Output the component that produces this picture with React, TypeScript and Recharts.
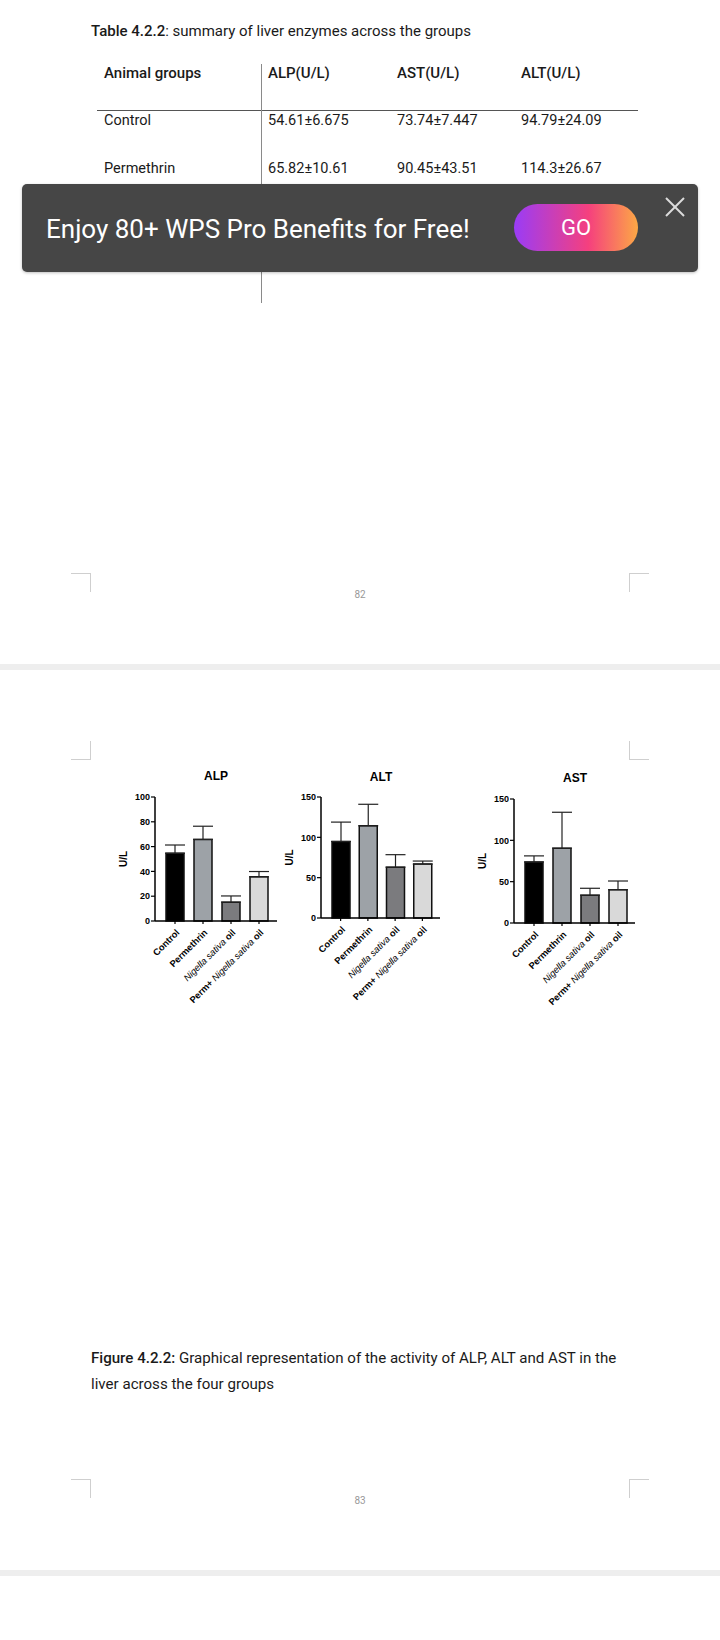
import React from 'react';
import { BarChart, Bar, XAxis, YAxis, Cell, ErrorBar } from 'recharts';

// groups and bar colours (same order in every panel)
const GROUPS = ['Control', 'Permethrin', 'Nigella sativa oil', 'Perm+ Nigella sativa oil'];
const BAR_COLORS = ['#000000', '#9da2a7', '#7b7b7e', '#d9d9d9'];

const ALP_MEANS = [54.61, 65.82, 15.2, 35.6];
const ALP_ERRS = [6.675, 10.61, 5.0, 4.3];
const ALT_MEANS = [94.79, 114.3, 63.0, 66.8];
const ALT_ERRS = [24.09, 26.67, 15.5, 3.8];
const AST_MEANS = [73.74, 90.45, 33.6, 40.3];
const AST_ERRS = [7.447, 43.51, 8.4, 10.5];

const ALP_TICKS = [0, 20, 40, 60, 80, 100];
const ALT_TICKS = [0, 50, 100, 150];
const AST_TICKS = [0, 50, 100, 150];

// table above the banner
const TABLE_HEAD = ['Animal groups', 'ALP(U/L)', 'AST(U/L)', 'ALT(U/L)'];
const TABLE_ROWS = [
  ['Control', '54.61±6.675', '73.74±7.447', '94.79±24.09'],
  ['Permethrin', '65.82±10.61', '90.45±43.51', '114.3±26.67'],
];
const TABLE_COLS = [104, 268, 397, 521];
const TABLE_ROW_Y = [121, 169];

const GP_FONT = '"Liberation Sans", Arial, sans-serif';
const DOC_FONT = 'Roboto, "Noto Sans", sans-serif';

const ITALIC_WORDS = ['Nigella', 'sativa'];

const GroupTick = (props: any) => {
  const { x, y, payload } = props;
  const words: string[] = String(payload.value).split(' ');
  return (
    <g transform={`translate(${x + 3},${y + 5}) rotate(-45)`}>
      <text x={0} y={0} dy={3} textAnchor="end" fontSize={9.3} fontFamily={GP_FONT} fill="#000">
        {words.map((w, i) => {
          const it = ITALIC_WORDS.includes(w);
          return (
            <tspan key={i} fontStyle={it ? 'italic' : 'normal'} fontWeight={it ? 'normal' : 'bold'}>
              {w + (i < words.length - 1 ? ' ' : '')}
            </tspan>
          );
        })}
      </text>
    </g>
  );
};

interface PanelProps {
  title: string;
  means: number[];
  errs: number[];
  ticks: number[];
  axisX: number;
  yTop: number;
  yBottom: number;
  xEnd: number;
  padRight: number;
  titleX: number;
  titleY: number;
}

const Panel: React.FC<PanelProps> = ({ title, means, errs, ticks, axisX, yTop, yBottom, xEnd, padRight, titleX, titleY }) => {
  const data = GROUPS.map((g, i) => ({ name: g, value: means[i], err: [0, errs[i]] }));
  const yw = 60;
  const width = yw + (xEnd - axisX) + 10;
  const height = 20 + (yBottom - yTop) + 90;
  return (
    <>
      <div style={{ position: 'absolute', left: titleX, top: titleY, transform: 'translate(-50%,-50%)', fontFamily: GP_FONT, fontWeight: 'bold', fontSize: 12, color: '#000' }}>
        {title}
      </div>
      <div style={{ position: 'absolute', left: axisX - yw, top: yTop - 20 }}>
        <BarChart width={width} height={height} data={data} margin={{ top: 20, right: 10, left: 0, bottom: 0 }}>
          <XAxis
            dataKey="name"
            interval={0}
            height={90}
            padding={{ left: 6, right: padRight }}
            axisLine={{ stroke: '#000', strokeWidth: 1.5 }}
            tickLine={{ stroke: '#000', strokeWidth: 1.2 }}
            tickSize={3}
            tick={<GroupTick />}
          />
          <YAxis
            width={yw}
            domain={[0, ticks[ticks.length - 1]]}
            ticks={ticks}
            interval={0}
            axisLine={{ stroke: '#000', strokeWidth: 1.5 }}
            tickLine={{ stroke: '#000', strokeWidth: 1.2 }}
            tickSize={4}
            tickMargin={1}
            tick={{ fontSize: 9, fontWeight: 'bold', fill: '#000', fontFamily: GP_FONT }}
            label={{ value: 'U/L', angle: -90, position: 'insideLeft', offset: 28, style: { textAnchor: 'middle', fontSize: 10, fontWeight: 'bold', fontFamily: GP_FONT, fill: '#000' } }}
          />
          <Bar dataKey="value" barSize={18} stroke="#111" strokeWidth={1.5} isAnimationActive={false}>
            {data.map((d, i) => (
              <Cell key={d.name} fill={BAR_COLORS[i]} />
            ))}
            <ErrorBar dataKey="err" width={10} stroke="#222" strokeWidth={1.2} isAnimationActive={false} />
          </Bar>
        </BarChart>
      </div>
    </>
  );
};

const Line = ({ x, y, w, h, c }: { x: number; y: number; w: number; h: number; c: string }) => (
  <div style={{ position: 'absolute', left: x, top: y, width: w, height: h, background: c }} />
);

const Txt = ({ x, y, size, children, weight, color }: any) => (
  <div style={{ position: 'absolute', left: x, top: y - 12, lineHeight: '24px', fontSize: size, fontWeight: weight || 400, color: color || '#1a1a1a', whiteSpace: 'nowrap', fontFamily: DOC_FONT }}>
    {children}
  </div>
);

// page corner marks
const Corner = ({ x, y, flipX, flipY }: { x: number; y: number; flipX: boolean; flipY: boolean }) => (
  <>
    <Line x={flipX ? x : x - 19} y={flipY ? y + 18 : y} w={20} h={1} c="#cfcfcf" />
    <Line x={x} y={y} w={1} h={19} c="#cfcfcf" />
  </>
);

export default function App() {
  return (
    <div style={{ position: 'absolute', left: 0, top: 0, width: 720, height: 1640, background: '#fff', overflow: 'hidden', fontFamily: DOC_FONT }}>
      {/* table */}
      <Txt x={91} y={31} size={15}>
        <span style={{ fontWeight: 500 }}>Table 4.2.2</span>: summary of liver enzymes across the groups
      </Txt>
      {TABLE_HEAD.map((h, i) => (
        <Txt key={h} x={TABLE_COLS[i]} y={73} size={15} weight={500}>{h}</Txt>
      ))}
      {TABLE_ROWS.map((row, r) =>
        row.map((cell, i) => (
          <Txt key={r + '-' + i} x={TABLE_COLS[i]} y={TABLE_ROW_Y[r]} size={14.5}>{cell}</Txt>
        ))
      )}
      <Line x={97} y={110} w={541} h={1} c="#555" />
      <Line x={261} y={64} w={1} h={239} c="#8a8a8a" />

      {/* banner */}
      <div style={{ position: 'absolute', left: 22, top: 184, width: 676, height: 88, background: '#464646', borderRadius: 5, boxShadow: '0 1px 3px rgba(0,0,0,0.25)' }}>
        <div style={{ position: 'absolute', left: 24, top: 45, transform: 'translateY(-50%)', color: '#fff', fontSize: 26, fontFamily: DOC_FONT, whiteSpace: 'nowrap' }}>
          Enjoy 80+ WPS Pro Benefits for Free!
        </div>
        <div style={{ position: 'absolute', left: 492, top: 20, width: 124, height: 47, borderRadius: 24, background: 'linear-gradient(90deg, #9a3cf6 0%, #f5407e 60%, #fca845 100%)', color: '#fff', fontSize: 22, lineHeight: '47px', textAlign: 'center', fontFamily: DOC_FONT }}>
          GO
        </div>
        <svg style={{ position: 'absolute', left: 643, top: 13 }} width={20} height={20}>
          <line x1={1} y1={1} x2={19} y2={19} stroke="#dcdcdc" strokeWidth={2} />
          <line x1={19} y1={1} x2={1} y2={19} stroke="#dcdcdc" strokeWidth={2} />
        </svg>
      </div>

      {/* end of page 82 */}
      <Corner x={90} y={573} flipX={false} flipY={false} />
      <Corner x={629} y={573} flipX={true} flipY={false} />
      <div style={{ position: 'absolute', left: 360, top: 594, transform: 'translate(-50%,-50%)', fontSize: 10, color: '#999', fontFamily: DOC_FONT }}>82</div>
      <Line x={0} y={664} w={720} h={6} c="#eeeeee" />

      {/* page 83 */}
      <Corner x={90} y={741} flipX={false} flipY={true} />
      <Corner x={629} y={741} flipX={true} flipY={true} />

      <Panel title="ALP" means={ALP_MEANS} errs={ALP_ERRS} ticks={ALP_TICKS} axisX={155} yTop={797} yBottom={921} xEnd={277} padRight={4} titleX={216} titleY={776} />
      <Panel title="ALT" means={ALT_MEANS} errs={ALT_ERRS} ticks={ALT_TICKS} axisX={321} yTop={797} yBottom={918} xEnd={440} padRight={4} titleX={381} titleY={777} />
      <Panel title="AST" means={AST_MEANS} errs={AST_ERRS} ticks={AST_TICKS} axisX={514} yTop={799} yBottom={923} xEnd={635} padRight={3} titleX={575} titleY={778} />

      <div style={{ position: 'absolute', left: 91, top: 1345, fontSize: 15.1, lineHeight: '26px', color: '#1a1a1a', fontFamily: DOC_FONT }}>
        <span style={{ fontWeight: 500 }}>Figure 4.2.2:</span> Graphical representation of the activity of ALP, ALT and AST in the
        <br />
        liver across the four groups
      </div>

      <Corner x={90} y={1479} flipX={false} flipY={false} />
      <Corner x={629} y={1479} flipX={true} flipY={false} />
      <div style={{ position: 'absolute', left: 360, top: 1500, transform: 'translate(-50%,-50%)', fontSize: 10, color: '#999', fontFamily: DOC_FONT }}>83</div>
      <Line x={0} y={1570} w={720} h={6} c="#eeeeee" />
    </div>
  );
}
